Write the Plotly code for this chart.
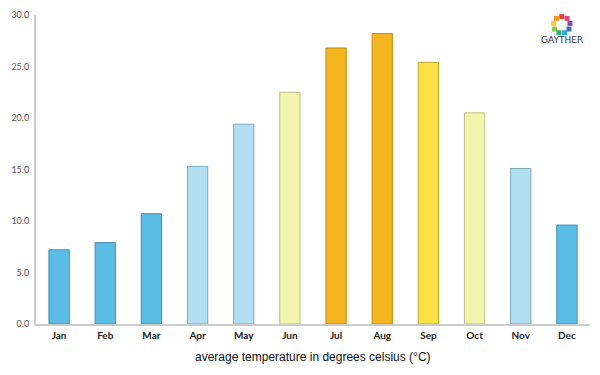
import plotly.graph_objects as go
import math

months = ["Jan", "Feb", "Mar", "Apr", "May", "Jun", "Jul", "Aug", "Sep", "Oct", "Nov", "Dec"]
temps = [7.2, 7.9, 10.7, 15.3, 19.4, 22.5, 26.8, 28.2, 25.4, 20.5, 15.1, 9.6]
fill_colors = ["#5BBDE5", "#5BBDE5", "#5BBDE5", "#B1DEF0", "#B1DEF0", "#F3F5AB",
               "#F5B51E", "#F5B51E", "#F9E343", "#F3F5AB", "#B1DEF0", "#5BBDE5"]
line_colors = ["#3F8FB0", "#3F8FB0", "#3F8FB0", "#7FA9BC", "#7FA9BC", "#BDBE84",
               "#C48D10", "#C48D10", "#B9A62A", "#BDBE84", "#7FA9BC", "#3F8FB0"]
y_ticks = [0, 5, 10, 15, 20, 25, 30]

fig = go.Figure()
fig.add_trace(go.Bar(
    x=months, y=temps,
    marker=dict(color=fill_colors, line=dict(color=line_colors, width=1)),
    width=0.44,
))

# logo ring
logo_cols = ["#E8412C", "#F39A1F", "#F7D21E", "#8DC63F", "#2BB673", "#27AAE1", "#3F6FB6", "#8E4A9E", "#E5418B"]
shapes = []
cx, cy = 0.949, 0.968
rx, ry = 0.015, 0.027
for i, c in enumerate(logo_cols):
    a = math.pi / 2 + 2 * math.pi * i / len(logo_cols)
    x = cx + rx * math.cos(a)
    y = cy + ry * math.sin(a)
    shapes.append(dict(type="rect", xref="paper", yref="paper",
                       x0=x - 0.0045, x1=x + 0.0045, y0=y - 0.008, y1=y + 0.008,
                       fillcolor=c, line=dict(width=0)))

fig.update_layout(
    width=592, height=367,
    margin=dict(l=28, r=10, t=7, b=51),
    paper_bgcolor="white", plot_bgcolor="white",
    showlegend=False,
    font=dict(family="Lato, DejaVu Sans, sans-serif"),
    shapes=shapes,
    xaxis=dict(
        automargin=False,
        showline=True, linecolor="#CCCCCC", linewidth=2,
        tickfont=dict(size=10, color="#222222", family="Lato, sans-serif", weight="bold"),
        ticks="", showgrid=False, ticklabelstandoff=1,
    ),
    yaxis=dict(
        automargin=False,
        range=[0, 30], tickvals=y_ticks,
        ticktext=[f"{v:.1f}" for v in y_ticks],
        showline=True, linecolor="#CCCCCC", linewidth=2,
        tickfont=dict(size=9, color="#555555", family="Lato, sans-serif"),
        showgrid=False, zeroline=False, ticks="", ticklabelstandoff=3,
    ),
    annotations=[
        dict(text="GAYTHER", xref="paper", yref="paper", x=0.949, y=0.919,
             xanchor="center", yanchor="middle",
             showarrow=False, font=dict(size=9, color="#333333", family="DejaVu Sans, sans-serif")),
        dict(text="average temperature in degrees celsius (°C)", xref="paper", yref="paper",
             x=0.5, y=0, yshift=-33, xanchor="center", yanchor="middle", showarrow=False,
             font=dict(family="Liberation Sans, Arial, sans-serif", size=12, color="#111111")),
    ],
)

fig.write_html("out.html")
